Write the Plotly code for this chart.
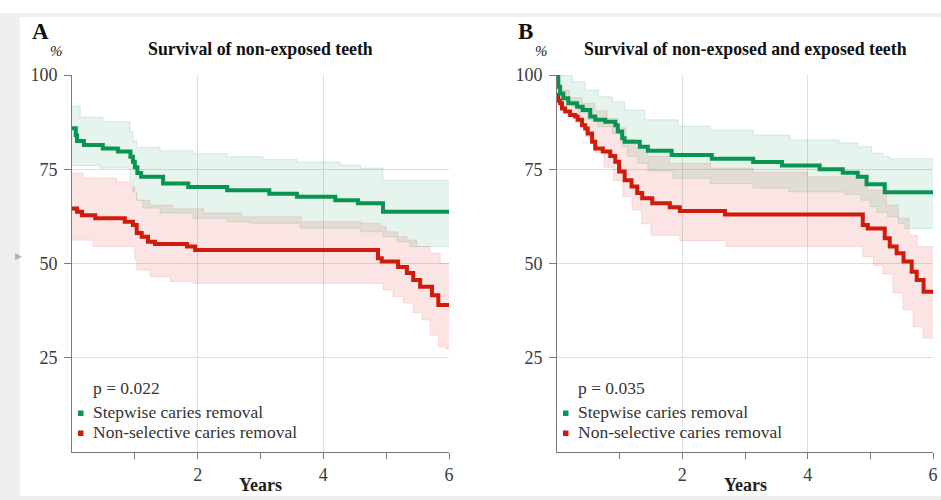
import plotly.graph_objects as go

# ---------------- Data ----------------
# Panel A: survival of non-exposed teeth
a_green_t = [0, 0.06, 0.08, 0.19, 0.49, 0.73, 0.93, 0.97, 1.0, 1.04, 1.1, 1.45, 1.85, 2.47, 3.14, 3.58, 4.19, 4.55, 4.95, 6]
a_green_s = [85.9, 84.0, 82.5, 81.4, 80.5, 79.7, 78.3, 77.0, 75.5, 74.0, 73.0, 71.2, 70.3, 69.4, 68.5, 67.7, 66.8, 66.0, 63.7, 63.7]
a_green_up_t = [0, 0.13, 0.49, 0.92, 0.97, 1.03, 1.4, 1.93, 2.47, 3.04, 3.58, 4.27, 4.59, 4.95, 6]
a_green_up = [91.8, 88.8, 87.6, 85.0, 82.5, 80.8, 79.9, 79.1, 78.3, 77.6, 76.9, 76.1, 75.3, 72.1, 72.1]
a_green_lo_t = [0, 0.45, 0.92, 0.97, 1.03, 1.13, 1.4, 1.93, 2.47, 2.83, 3.63, 4.59, 4.95, 5.18, 5.38, 6]
a_green_lo = [76.0, 75.3, 72.0, 69.0, 66.8, 64.7, 63.4, 62.0, 61.1, 60.7, 59.4, 58.4, 57.1, 55.8, 54.5, 54.5]

a_red_t = [0, 0.08, 0.16, 0.37, 0.84, 0.97, 1.03, 1.11, 1.21, 1.32, 1.83, 1.96, 4.87, 4.93, 5.19, 5.33, 5.43, 5.54, 5.73, 5.83, 6]
a_red_s = [64.6, 63.7, 62.8, 62.0, 61.1, 60.2, 58.1, 57.1, 55.8, 55.2, 54.5, 53.6, 51.4, 50.5, 49.1, 47.5, 45.6, 43.8, 41.6, 39.0, 39.0]
a_red_up_t = [0, 0.18, 0.71, 0.95, 1.0, 1.03, 1.24, 1.6, 2.1, 2.7, 3.65, 4.6, 4.9, 5.0, 5.18, 5.33, 5.49, 5.7, 5.86, 6]
a_red_up = [74.0, 72.7, 71.6, 70.3, 68.7, 66.8, 65.5, 64.5, 63.4, 62.4, 61.1, 60.7, 59.8, 58.4, 57.1, 56.2, 54.5, 52.8, 50.0, 50.0]
a_red_lo_t = [0, 0.33, 1.0, 1.03, 1.24, 1.56, 1.93, 4.86, 4.95, 5.11, 5.27, 5.43, 5.57, 5.7, 5.83, 5.95, 6]
a_red_lo = [56.2, 54.5, 51.0, 48.3, 46.5, 45.2, 44.7, 44.7, 43.0, 41.2, 39.5, 36.9, 35.0, 31.0, 27.9, 27.3, 27.3]

# Panel B: survival of non-exposed and exposed teeth
b_green_t = [0, 0.02, 0.05, 0.1, 0.18, 0.32, 0.41, 0.53, 0.61, 0.77, 0.93, 0.97, 1.04, 1.08, 1.32, 1.45, 1.83, 2.47, 3.13, 3.59, 4.19, 4.56, 4.80, 4.94, 5.23, 6]
b_green_s = [100, 96.9, 95.1, 93.8, 92.5, 91.6, 90.7, 89.0, 88.1, 87.6, 86.7, 85.0, 83.2, 82.3, 81.0, 79.9, 78.8, 77.8, 76.9, 76.0, 75.0, 74.1, 73.0, 71.0, 68.9, 68.9]
b_green_up_t = [0, 0.24, 0.45, 0.66, 0.88, 1.08, 1.4, 1.93, 2.45, 3.13, 3.72, 4.5, 4.8, 5.02, 5.2, 5.3, 6]
b_green_up = [100, 98.2, 96.0, 94.2, 92.9, 90.7, 88.1, 86.5, 85.4, 84.1, 82.8, 82.0, 81.0, 79.3, 78.4, 77.8, 77.8]
b_green_lo_t = [0, 0.03, 0.13, 0.24, 0.34, 0.49, 0.65, 0.88, 1.04, 1.13, 1.29, 1.45, 1.85, 2.45, 3.13, 3.7, 4.6, 4.85, 5.0, 5.1, 5.27, 5.45, 5.55, 6]
b_green_lo = [99.0, 96.0, 93.2, 91.6, 89.9, 88.1, 86.3, 84.5, 81.0, 78.4, 76.6, 74.5, 72.6, 71.2, 70.0, 69.0, 68.3, 66.8, 65.1, 63.6, 62.4, 60.6, 59.3, 59.3]

b_red_t = [0, 0.02, 0.05, 0.08, 0.13, 0.21, 0.29, 0.33, 0.40, 0.45, 0.49, 0.56, 0.61, 0.73, 0.85, 0.93, 0.99, 1.08, 1.19, 1.28, 1.36, 1.52, 1.80, 1.96, 2.68, 4.88, 4.96, 5.23, 5.31, 5.42, 5.53, 5.66, 5.74, 5.85, 6]
b_red_s = [94.7, 93.2, 92.5, 91.1, 90.3, 89.4, 89.0, 88.1, 86.7, 85.8, 84.5, 82.3, 80.5, 79.7, 78.5, 77.0, 74.4, 72.1, 70.4, 68.7, 67.3, 66.0, 64.9, 63.9, 63.0, 60.2, 59.3, 56.7, 54.5, 52.7, 50.5, 47.8, 45.6, 42.5, 42.5]
b_red_up_t = [0, 0.05, 0.2, 0.4, 0.6, 0.8, 0.97, 1.1, 1.25, 1.45, 1.8, 2.45, 3.13, 4.0, 4.85, 4.96, 5.26, 5.45, 5.62, 5.75, 6]
b_red_up = [97.0, 96.0, 94.0, 92.5, 90.5, 88.5, 86.0, 83.0, 80.5, 78.5, 76.6, 75.3, 74.2, 73.0, 72.1, 69.5, 65.5, 62.0, 57.5, 54.5, 54.5]
b_red_lo_t = [0, 0.05, 0.13, 0.29, 0.45, 0.6, 0.75, 0.9, 1.05, 1.2, 1.35, 1.5, 1.96, 2.7, 4.88, 5.05, 5.2, 5.36, 5.52, 5.68, 5.84, 6]
b_red_lo = [93.0, 91.5, 90.0, 87.5, 83.6, 79.5, 75.5, 72.0, 67.7, 64.2, 60.5, 57.5, 56.0, 54.5, 51.8, 49.5, 47.2, 42.2, 37.7, 33.2, 30.2, 29.7]

x_ticks = [2, 4, 6]
x_minor_ticks = [1, 3, 5]
y_ticks = [25, 50, 75, 100]

p_values = ["p = 0.022", "p = 0.035"]
group_names = ["Stepwise caries removal", "Non-selective caries removal"]
panel_letters = ["A", "B"]
panel_titles = ["Survival of non-exposed teeth", "Survival of non-exposed and exposed teeth"]

# ---------------- Styling / geometry ----------------
W, H = 941, 500
GREEN = "#0a9452"
RED = "#cf1b0c"
GREEN_FILL = "rgba(0,150,80,0.10)"
RED_FILL = "rgba(225,40,30,0.12)"
GREEN_EDGE = "rgba(0,150,80,0.14)"
RED_EDGE = "rgba(225,40,30,0.12)"
SERIF = "Liberation Serif"


def px(x):
    """screen pixel x -> paper fraction"""
    return x / W


def py(y):
    """screen pixel y (from top) -> paper fraction"""
    return (H - y) / H


fig = go.Figure()


def add_band(t_up, up, t_lo, lo, fill, edge, xa, ya):
    fig.add_trace(go.Scatter(x=t_up, y=up, mode="lines", line=dict(shape="hv", width=1, color=edge),
                             hoverinfo="skip", showlegend=False, xaxis=xa, yaxis=ya))
    fig.add_trace(go.Scatter(x=t_lo, y=lo, mode="lines", line=dict(shape="hv", width=1, color=edge),
                             fill="tonexty", fillcolor=fill, hoverinfo="skip", showlegend=False,
                             xaxis=xa, yaxis=ya))


def add_curve(t, s, color, name, xa, ya):
    fig.add_trace(go.Scatter(x=t, y=s, mode="lines", line=dict(shape="hv", width=4, color=color),
                             name=name, showlegend=False, xaxis=xa, yaxis=ya))


for xa, ya, data in [
    ("x", "y", (a_green_t, a_green_s, a_green_up_t, a_green_up, a_green_lo_t, a_green_lo,
                a_red_t, a_red_s, a_red_up_t, a_red_up, a_red_lo_t, a_red_lo)),
    ("x2", "y2", (b_green_t, b_green_s, b_green_up_t, b_green_up, b_green_lo_t, b_green_lo,
                  b_red_t, b_red_s, b_red_up_t, b_red_up, b_red_lo_t, b_red_lo)),
]:
    gt, gs, gut, gu, glt, gl, rt, rs, rut, ru, rlt, rl = data
    add_band(rut, ru, rlt, rl, RED_FILL, RED_EDGE, xa, ya)
    add_band(gut, gu, glt, gl, GREEN_FILL, GREEN_EDGE, xa, ya)
    add_curve(rt, rs, RED, group_names[1], xa, ya)
    add_curve(gt, gs, GREEN, group_names[0], xa, ya)

axis_common = dict(
    showline=True, linecolor="#7a7a7a", linewidth=1,
    ticks="outside", tickcolor="#7a7a7a", tickwidth=1,
    showgrid=True, gridcolor="#dedede", gridwidth=1, zeroline=False,
    automargin=False,
    tickfont=dict(family=SERIF, size=18, color="#3a3a3a"),
)

panels = [  # pixel geometry of each panel: x0, x1 (plot area)
    (72, 449),
    (557, 933),
]

layout = dict(
    width=W, height=H,
    margin=dict(l=0, r=0, t=0, b=0, autoexpand=False),
    paper_bgcolor="white",
    plot_bgcolor="rgba(0,0,0,0)",
    showlegend=False,
    shapes=[],
    annotations=[],
)

for i, (x0, x1) in enumerate(panels):
    sx = "" if i == 0 else str(i + 1)
    layout["xaxis" + sx] = dict(
        axis_common, domain=[px(x0), px(x1)], range=[0, 6], anchor="y" + sx,
        tickvals=x_ticks, ticklen=6,
        minor=dict(tickvals=x_minor_ticks, ticks="outside", ticklen=6, tickcolor="#7a7a7a", showgrid=False),
    )
    layout["yaxis" + sx] = dict(
        axis_common, domain=[py(452), py(75)], range=[0, 100], anchor="x" + sx,
        tickvals=y_ticks, ticklen=7, ticklabelstandoff=3,
    )

# outer frame of the page screenshot
layout["shapes"].append(dict(type="rect", xref="paper", yref="paper", x0=0, x1=1, y0=0, y1=py(13),
                             fillcolor="#efefef", line=dict(width=0), layer="below"))
layout["shapes"].append(dict(type="rect", xref="paper", yref="paper", x0=px(20), x1=1, y0=py(496), y1=py(17),
                             fillcolor="white", line=dict(width=0), layer="below"))
layout["annotations"].append(dict(text="▶", x=px(13), y=py(255), xref="paper", yref="paper",
                                  showarrow=False, font=dict(size=9, color="#b0b0b0")))

for i, (x0, x1) in enumerate(panels):
    letter_x = x0 - 32
    cx = (x0 + x1) / 2
    ann = layout["annotations"]
    ann.append(dict(text="<b>%s</b>" % panel_letters[i], x=px(letter_x), y=py(31), xref="paper", yref="paper",
                    showarrow=False, xanchor="center", yanchor="middle",
                    font=dict(family=SERIF, size=23, color="#111")))
    ann.append(dict(text="<i>%</i>", x=px(x0 - 16), y=py(51), xref="paper", yref="paper",
                    showarrow=False, xanchor="center", yanchor="middle",
                    font=dict(family=SERIF, size=15, color="#222")))
    ann.append(dict(text="<b>%s</b>" % panel_titles[i], x=px(cx), y=py(49),
                    xref="paper", yref="paper", showarrow=False, xanchor="center", yanchor="middle",
                    font=dict(family=SERIF, size=17.8, color="#111")))
    ann.append(dict(text="<b>Years</b>", x=px(cx), y=py(485), xref="paper", yref="paper",
                    showarrow=False, xanchor="center", yanchor="middle",
                    font=dict(family=SERIF, size=18, color="#222")))
    ann.append(dict(text=p_values[i], x=px(x0 + 19), y=py(388), xref="paper", yref="paper",
                    showarrow=False, xanchor="left", yanchor="middle",
                    font=dict(family=SERIF, size=17.5, color="#333")))
    for j, (name, col) in enumerate(zip(group_names, [GREEN, RED])):
        yy = 413 + 20 * j
        layout["shapes"].append(dict(type="rect", xref="paper", yref="paper",
                                     x0=px(x0 + 6), x1=px(x0 + 11.5), y0=py(yy + 3), y1=py(yy - 2.5),
                                     fillcolor=col, line=dict(width=0)))
        ann.append(dict(text=name, x=px(x0 + 19), y=py(yy - 1), xref="paper", yref="paper",
                        showarrow=False, xanchor="left", yanchor="middle",
                        font=dict(family=SERIF, size=17.5, color="#333")))

fig.update_layout(**layout)
fig.write_html("out.html", config={"displayModeBar": False},
               post_script="document.body.style.margin='0';document.body.style.overflow='hidden';")
